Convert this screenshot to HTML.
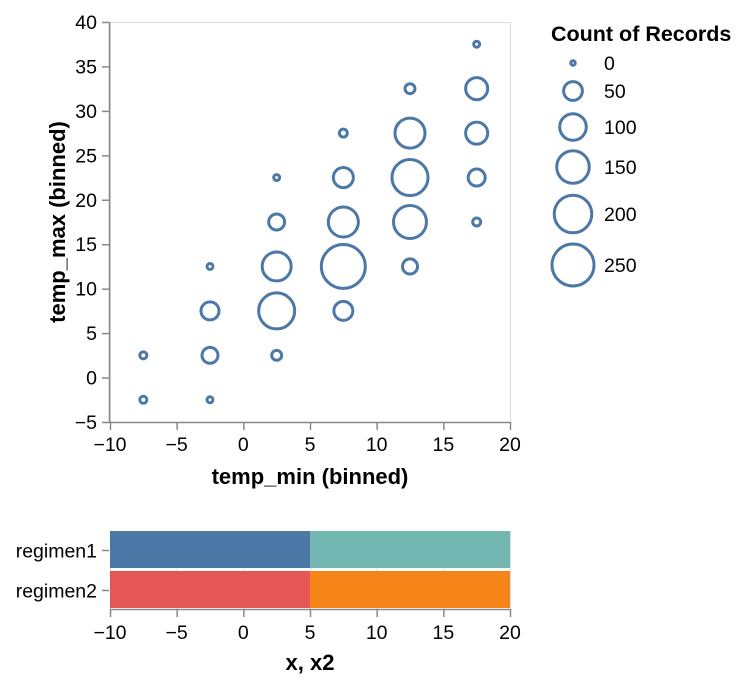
<!DOCTYPE html>
<html><head><meta charset="utf-8"><style>
html,body{margin:0;padding:0;background:#fff;}
svg{display:block;font-family:"Liberation Sans",Arial,sans-serif;}
</style></head><body>
<svg id="chart" width="746" height="686" viewBox="0 0 746 686" xmlns="http://www.w3.org/2000/svg"></svg>
<script>
const xBinCenters=[-7.5,-7.5,-2.5,-2.5,-2.5,-2.5,2.5,2.5,2.5,2.5,2.5,7.5,7.5,7.5,7.5,7.5,12.5,12.5,12.5,12.5,12.5,17.5,17.5,17.5,17.5,17.5];
const yBinCenters=[-2.5,2.5,-2.5,2.5,7.5,12.5,2.5,7.5,12.5,17.5,22.5,7.5,12.5,17.5,22.5,27.5,12.5,17.5,22.5,27.5,32.5,17.5,22.5,27.5,32.5,37.5];
const counts=[7,7,5,36,46,5,14,184,119,36,5,51,274,128,57,9,32,154,184,128,14,9,41,69,69,5];
const xTicks=[-10,-5,0,5,10,15,20];
const yTicks=[-5,0,5,10,15,20,25,30,35,40];
const legendValues=[0,50,100,150,200,250];
const regimens=["regimen1","regimen2"];
const barStart=[-10,5,-10,5];
const barEnd=[5,20,5,20];
const barRegimen=["regimen1","regimen1","regimen2","regimen2"];
const barColors=["#4c78a8","#72b7b2","#e45756","#f58518"];

const NS="http://www.w3.org/2000/svg";
const svg=document.getElementById('chart');
function mk(t,a,p){const e=document.createElementNS(NS,t);for(const k in a)e.setAttribute(k,a[k]);(p||svg).appendChild(e);return e;}
const X0=110,X1=510,Y0=22,Y1=422;
const xs=v=>X0+(v+10)/30*(X1-X0);
const ys=v=>Y1-(v+5)/45*(Y1-Y0);
const rs=c=>Math.max(2.3,Math.sqrt(c/250)*21);
const FS=19.5, TS=22;

let f=mk('rect',{x:X0+0.5,y:Y0+0.5,width:X1-X0,height:Y1-Y0,fill:'none',stroke:'#ddd'});


let ax=mk('g',{});


mk('line',{x1:X0,x2:X1,y1:Y1+0.5,y2:Y1+0.5,stroke:'#888','stroke-width':1.5},ax);
xTicks.forEach(t=>{
  mk('line',{x1:xs(t)+0.5,x2:xs(t)+0.5,y1:Y1,y2:Y1+8,stroke:'#888','stroke-width':1.5},ax);
  const tx=mk('text',{x:xs(t),y:Y1+29,'text-anchor':'middle','font-size':FS},ax);
  tx.textContent=String(t).replace('-','\u2212');
});
let xt=mk('text',{x:(X0+X1)/2,y:484,'text-anchor':'middle','font-size':TS,'font-weight':'bold'});
xt.textContent='temp_min (binned)';


let ay=mk('g',{});


mk('line',{x1:X0-0.5,x2:X0-0.5,y1:Y0,y2:Y1,stroke:'#888','stroke-width':1.5},ay);
yTicks.forEach(t=>{
  mk('line',{x1:X0-8,x2:X0,y1:ys(t)+0.5,y2:ys(t)+0.5,stroke:'#888','stroke-width':1.5},ay);
  const tx=mk('text',{x:X0-13,y:ys(t)+7,'text-anchor':'end','font-size':FS},ay);
  tx.textContent=String(t).replace('-','\u2212');
});
let yt=mk('text',{transform:'translate(65,222) rotate(-90)','text-anchor':'middle','font-size':TS,'font-weight':'bold'});
yt.textContent='temp_max (binned)';


counts.forEach((c,i)=>{
  const p=mk('circle',{cx:xs(xBinCenters[i]),cy:ys(yBinCenters[i]),r:rs(c),fill:'none',stroke:'#4c78a8','stroke-width':3});
  
  
});
let lg=mk('g',{});


let lt=mk('text',{x:551,y:41,'font-size':21.5,'font-weight':'bold'},lg);
lt.textContent='Count of Records';
const legY=[63,91,127,167,214,265];
legendValues.forEach((v,i)=>{
  const c=mk('circle',{cx:573,cy:legY[i],r:rs(v),fill:'none',stroke:'#4c78a8','stroke-width':3},lg);
  
  
  const t=mk('text',{x:604,y:legY[i]+7,'font-size':FS},lg);
  t.textContent=v;
});

const B0=531,B1=609;
const bandY={regimen1:531,regimen2:571};
const bandH=37;
for(let t of xTicks){mk('line',{x1:xs(t)+0.5,x2:xs(t)+0.5,y1:B0,y2:B1,stroke:'#ddd'});}
mk('line',{x1:X1+0.5,x2:X1+0.5,y1:B0,y2:B1,stroke:'#ddd'});
barStart.forEach((s,i)=>{
  const r=mk('rect',{x:xs(s),y:bandY[barRegimen[i]],width:xs(barEnd[i])-xs(s),height:bandH,fill:barColors[i]});
  
  
});
let bx=mk('g',{});


mk('line',{x1:X0,x2:X1,y1:B1+0.5,y2:B1+0.5,stroke:'#888','stroke-width':1.5},bx);
xTicks.forEach(t=>{
  mk('line',{x1:xs(t)+0.5,x2:xs(t)+0.5,y1:B1,y2:B1+8,stroke:'#888','stroke-width':1.5},bx);
  const tx=mk('text',{x:xs(t),y:B1+30,'text-anchor':'middle','font-size':FS},bx);
  tx.textContent=String(t).replace('-','\u2212');
});
let bxt=mk('text',{x:(X0+X1)/2,y:670,'text-anchor':'middle','font-size':TS,'font-weight':'bold'});
bxt.textContent='x, x2';


let by=mk('g',{});


regimens.forEach(r=>{
  const cy=bandY[r]+bandH/2+1;
  mk('line',{x1:X0-8,x2:X0-1,y1:cy,y2:cy,stroke:'#888','stroke-width':1.5},by);
  const t=mk('text',{x:X0-13,y:cy+7,'text-anchor':'end','font-size':FS},by);
  t.textContent=r;
});
</script>
</body></html>
